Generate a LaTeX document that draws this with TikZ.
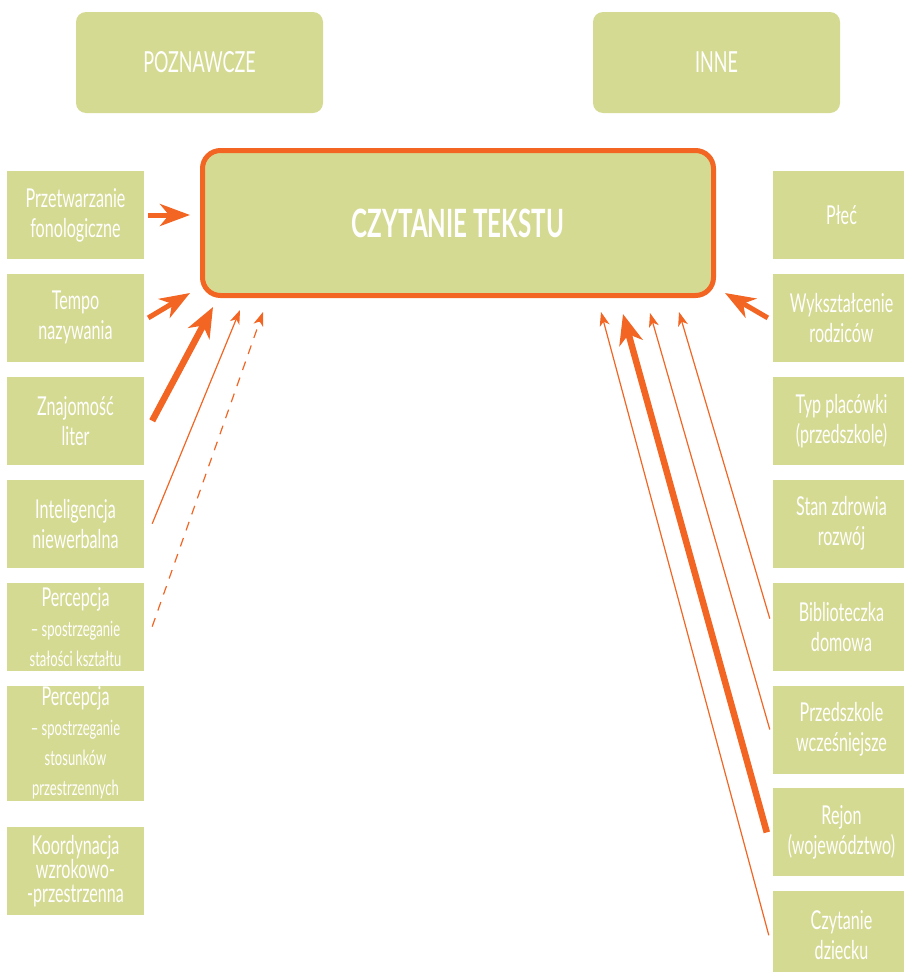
\documentclass[tikz,border=0pt]{standalone}
\usepackage{fontspec}
\newfontfamily\condfont{Lato}[FakeStretch=0.62]
\usetikzlibrary{positioning,arrows.meta}
\definecolor{kiwi}{HTML}{D5DA92}
\definecolor{carrot}{HTML}{F26522}
\newcommand\smallline{\fontsize{21}{23}\selectfont}

\begin{document}
\begin{tikzpicture}[x=1pt,y=-1pt,node distance=14.5pt,
  box/.style={fill=kiwi,text=white,align=center,minimum width=137pt,minimum height=88pt,inner sep=0pt,font=\condfont\fontsize{26}{30}\selectfont},
  group/.style={fill=kiwi,text=white,rounded corners=10pt,minimum width=247pt,minimum height=101pt,font=\condfont\fontsize{29}{32}\selectfont},
  strong/.style={carrot,line width=6.5pt,-{Stealth[length=30pt,width=24pt,inset=9pt]}},
  medium/.style={carrot,line width=5pt,-{Stealth[length=30pt,width=22pt,inset=9pt]}},
  weak/.style={carrot,line width=1.2pt,-{Stealth[length=14pt,width=10pt,inset=4pt]}}]
\useasboundingbox (0,0) rectangle (903,972);
\node[group] (cog) at (199.5,62.5) {POZNAWCZE};
\node[group] (other) at (716.5,62.5) {INNE};
\node[draw=carrot,line width=5pt,fill=kiwi,rounded corners=18pt,minimum width=511pt,minimum height=145pt,text=white,font=\condfont\bfseries\fontsize{39}{44}\selectfont] (main) at (458,223) {CZYTANIE TEKSTU};

\node[box] (prz) at (75.5,215) {Przetwarzanie\\fonologiczne};
\node[box,below=of prz] (tempo) {Tempo\\nazywania};
\node[box,below=of tempo] (znaj) {Znajomość\\liter};
\node[box,below=of znaj] (intel) {Inteligencja\\niewerbalna};
\node[box,below=of intel] (perc) {Percepcja\\\smallline – spostrzeganie\\\smallline stałości kształtu};
\node[box,below=of perc,minimum height=115pt] (space) {Percepcja\\\smallline – spostrzeganie\\\smallline stosunków\\\smallline przestrzennych};
\node[box,below=26pt of space,font=\condfont\fontsize{26}{24}\selectfont] (coord) {Koordynacja\\wzrokowo-\\-przestrzenna};

\node[box] (sex) at (841.5,215) {Płeć};
\node[box,below=of sex] (edu) {Wykształcenie\\rodziców};
\node[box,below=of edu] (type) {Typ placówki\\(przedszkole)};
\node[box,below=of type] (health) {Stan zdrowia\\rozwój};
\node[box,below=of health] (books) {Biblioteczka\\domowa};
\node[box,below=of books] (early) {Przedszkole\\wcześniejsze};
\node[box,below=of early] (region) {Rejon\\(województwo)};
\node[box,below=of region] (read) {Czytanie\\dziecku};

\draw[medium,shorten >=10pt] ([xshift=4pt]prz.east) -- (prz.east -| main.west);
\draw[medium] ([xshift=4pt]tempo.east) -- ([shift={(-10,-5)}]main.south west);
\draw[strong] ([xshift=8pt]znaj.east) -- ([shift={(13,9)}]main.south west);
\draw[weak] ([xshift=8pt]intel.east) -- ([shift={(40,12)}]main.south west);
\draw[weak,dash pattern=on 9pt off 8pt] ([xshift=8pt]perc.east) -- ([shift={(63,14)}]main.south west);

\draw[medium] ([xshift=-5pt]edu.west) -- ([shift={(9,-5)}]main.south east);
\draw[weak] ([shift={(-3,-8)}]books.west) -- ([shift={(-37,14)}]main.south east);
\draw[weak] ([xshift=-3pt]early.west) -- ([shift={(-66,15)}]main.south east);
\draw[strong] ([xshift=-6pt]region.west) -- ([shift={(-93,16)}]main.south east);
\draw[weak] ([xshift=-4pt]read.west) -- ([shift={(-115,14)}]main.south east);
\end{tikzpicture}
\end{document}
